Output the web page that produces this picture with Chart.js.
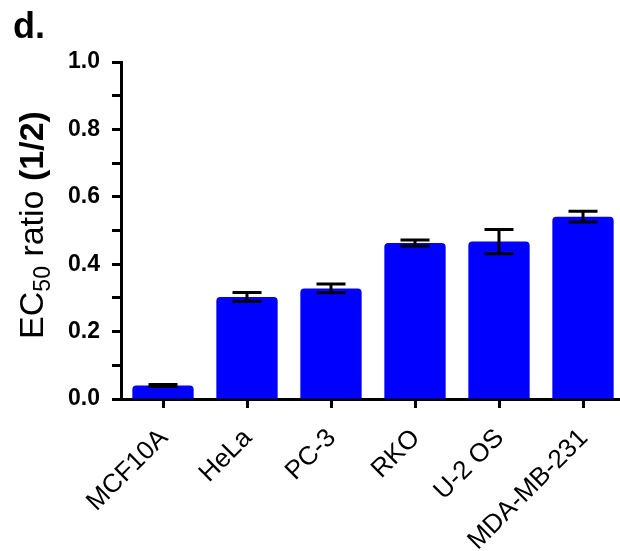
<!DOCTYPE html>
<html>
<head>
<meta charset="utf-8">
<script src="https://cdn.jsdelivr.net/npm/chart.js@4.4.1/dist/chart.umd.min.js"></script>
<style>
html,body{margin:0;padding:0;overflow:hidden;background:#fff;width:620px;height:551px;}
#wrap{position:relative;width:620px;height:551px;overflow:hidden;}
canvas{display:block;}
</style>
</head>
<body>
<div id="wrap"><canvas id="c" width="625" height="551"></canvas></div>
<script>
const categories = ['MCF10A', 'HeLa', 'PC-3', 'RKO', 'U-2 OS', 'MDA-MB-231'];
const means = [0.040, 0.303, 0.328, 0.463, 0.467, 0.541];
const errors = [0.003, 0.013, 0.013, 0.009, 0.036, 0.016];
const yTickLabels = ['0.0', '0.2', '0.4', '0.6', '0.8', '1.0'];
const panelLabel = 'd.';

const FONT = "'Liberation Sans', Arial, sans-serif";

const errorBars = {
  id: 'errorBars',
  afterDatasetsDraw(chart) {
    const ctx = chart.ctx;
    const meta = chart.getDatasetMeta(0);
    const y = chart.scales.y;
    ctx.save();
    ctx.strokeStyle = '#000';
    ctx.lineWidth = 3;
    ctx.lineCap = 'butt';
    meta.data.forEach((bar, i) => {
      const x = bar.x;
      const top = y.getPixelForValue(means[i] + errors[i]);
      const bot = y.getPixelForValue(means[i] - errors[i]);
      const hw = 14.5;
      ctx.beginPath();
      ctx.moveTo(x, top); ctx.lineTo(x, bot);
      ctx.moveTo(x - hw, top); ctx.lineTo(x + hw, top);
      ctx.moveTo(x - hw, bot); ctx.lineTo(x + hw, bot);
      ctx.stroke();
    });
    ctx.restore();
  }
};

const texts = {
  id: 'texts',
  afterDraw(chart) {
    const ctx = chart.ctx;
    ctx.save();
    ctx.fillStyle = '#000';
    // panel label
    ctx.font = "bold 36px " + FONT;
    ctx.textBaseline = 'alphabetic';
    ctx.textAlign = 'left';
    ctx.fillText(panelLabel, 13, 38);
    // y title with subscript
    const cy = 225;
    ctx.translate(43, cy);
    ctx.rotate(-Math.PI / 2);
    const parts = [
      {t: 'EC', f: "34px " + FONT, dy: 0},
      {t: '50', f: "23px " + FONT, dy: 7},
      {t: ' ratio ', f: "34px " + FONT, dy: 0},
      {t: '(1/2)', f: "bold 34px " + FONT, dy: 0}
    ];
    let total = 0;
    parts.forEach(p => { ctx.font = p.f; p.w = ctx.measureText(p.t).width; total += p.w; });
    let x = -total / 2;
    parts.forEach(p => { ctx.font = p.f; ctx.fillText(p.t, x, p.dy); x += p.w; });
    ctx.restore();
  }
};

new Chart(document.getElementById('c'), {
  type: 'bar',
  data: {
    labels: categories,
    datasets: [{
      data: means,
      backgroundColor: '#0000ff',
      borderWidth: 0,
      borderRadius: 4,
      barPercentage: 0.73,
      categoryPercentage: 1.0
    }]
  },
  options: {
    responsive: false,
    animation: false,
    events: [],
    layout: { padding: { top: 62, left: 0, right: 0, bottom: 0 } },
    plugins: { legend: { display: false }, tooltip: { enabled: false }, title: { display: false } },
    scales: {
      x: {
        offset: true,
        grid: { display: true, drawOnChartArea: false, drawTicks: true, tickLength: 9, tickWidth: 3, tickColor: '#000', offset: false },
        border: { display: true, color: '#000', width: 3 },
        ticks: {
          color: '#000', font: { family: FONT, size: 26 }, minRotation: 45, maxRotation: 45,
          padding: 15, labelOffset: 1, autoSkip: false
        },
        afterFit(s) { s.height = 152; }
      },
      y: {
        min: 0, max: 1.0,
        grid: { display: true, drawOnChartArea: false, drawTicks: true, tickLength: 9, tickWidth: 3, tickColor: '#000' },
        border: { display: true, color: '#000', width: 3 },
        ticks: {
          stepSize: 0.1, color: '#000', font: { family: FONT, size: 23, weight: 'bold' }, padding: 12,
          callback(v) {
            const k = Math.round(v * 10);
            return k % 2 === 0 ? yTickLabels[k / 2] : '';
          }
        },
        afterFit(s) { s.width = 121; }
      }
    }
  },
  plugins: [errorBars, texts]
});
</script>
</body>
</html>
